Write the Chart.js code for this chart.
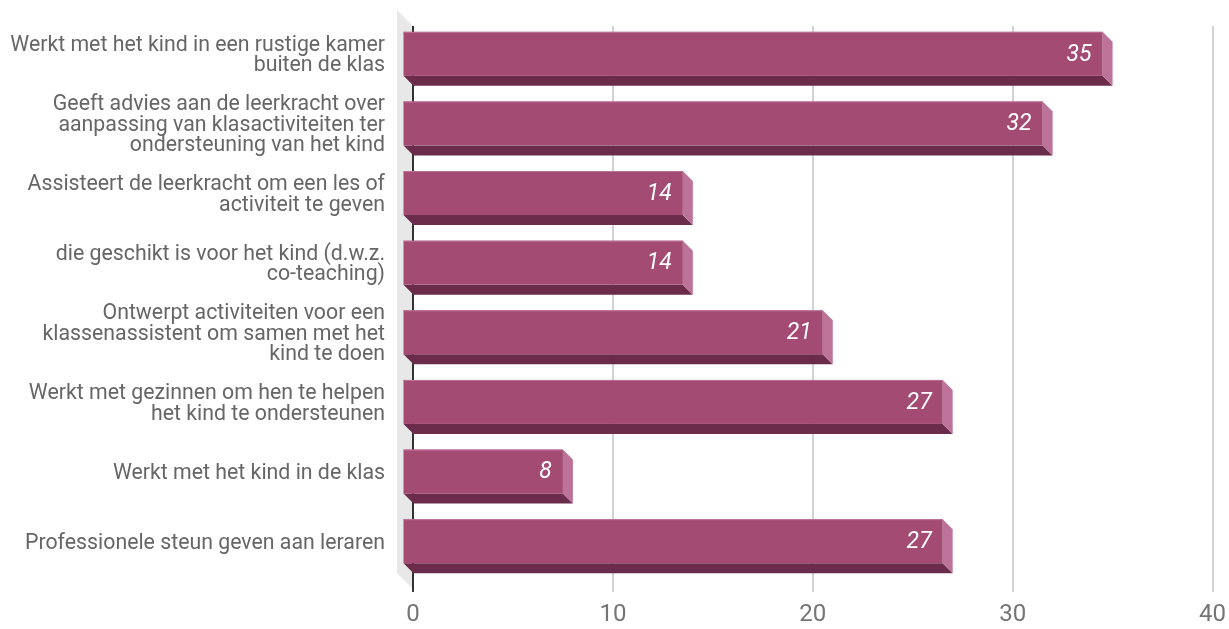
<!DOCTYPE html>
<html>
<head>
<meta charset="utf-8">
<script src="https://cdn.jsdelivr.net/npm/chart.js@4.4.0/dist/chart.umd.min.js"></script>
<style>
  html, body { margin: 0; padding: 0; background: #fff; }
  #wrap { width: 1229px; height: 629px; }
</style>
</head>
<body>
<div id="wrap"><canvas id="barChart"></canvas></div>
<script>
// categories (multi-line), values and axis ticks

const categories = [
    ['Werkt met het kind in een rustige kamer', 'buiten de klas'],
    ['Geeft advies aan de leerkracht over', 'aanpassing van klasactiviteiten ter', 'ondersteuning van het kind'],
    ['Assisteert de leerkracht om een les of', 'activiteit te geven'],
    ['die geschikt is voor het kind (d.w.z.', 'co-teaching)'],
    ['Ontwerpt activiteiten voor een', 'klassenassistent om samen met het', 'kind te doen'],
    ['Werkt met gezinnen om hen te helpen', 'het kind te ondersteunen'],
    ['Werkt met het kind in de klas'],
    ['Professionele steun geven aan leraren'],
];

const values = [35, 32, 14, 14, 21, 27, 8, 27];

const xTicks = [0, 10, 20, 30, 40];

// bar colours: front, bottom and right side
const frontColor = '#a34b73';
const bottomColor = '#6b2c4c';
const sideColor = '#bd7399';

const depth = 10;      // bar extrusion
const wallDepth = 16;  // grey wall on the left

const bars3d = {
    id: 'bars3d',
    beforeDatasetsDraw(chart) {
        const { ctx, chartArea: a, scales: { x } } = chart;
        const top = a.top - 3;
        const bottom = a.bottom + 6;
        const x0 = x.getPixelForValue(0);

        ctx.save();
        // wall
        ctx.fillStyle = '#e8e8e8';
        ctx.beginPath();
        ctx.moveTo(x0 - wallDepth, top - wallDepth);
        ctx.lineTo(x0, top);
        ctx.lineTo(x0, bottom - 3);
        ctx.lineTo(x0 - wallDepth, bottom - 3 - wallDepth);
        ctx.closePath();
        ctx.fill();

        // grid lines
        ctx.strokeStyle = '#d2d2d2';
        ctx.lineWidth = 2;
        xTicks.slice(1).forEach(v => {
            const px = Math.round(x.getPixelForValue(v));
            ctx.beginPath();
            ctx.moveTo(px, top);
            ctx.lineTo(px, bottom);
            ctx.stroke();
        });

        // zero line
        ctx.strokeStyle = '#333';
        ctx.beginPath();
        ctx.moveTo(Math.round(x0), top);
        ctx.lineTo(Math.round(x0), bottom);
        ctx.stroke();
        ctx.restore();
    },
    afterDatasetsDraw(chart) {
        const { ctx } = chart;
        const meta = chart.getDatasetMeta(0);
        ctx.save();
        meta.data.forEach((bar, i) => {
            const bx0 = bar.base, bx1 = bar.x;
            const by0 = bar.y - bar.height / 2, by1 = bar.y + bar.height / 2;
            const fx0 = bx0 - depth, fx1 = bx1 - depth;
            const fy0 = by0 - depth, fy1 = by1 - depth;

            // bottom face
            ctx.fillStyle = bottomColor;
            ctx.beginPath();
            ctx.moveTo(fx0, fy1);
            ctx.lineTo(fx1, fy1);
            ctx.lineTo(bx1, by1);
            ctx.lineTo(bx0, by1);
            ctx.closePath();
            ctx.fill();

            // right face
            ctx.fillStyle = sideColor;
            ctx.beginPath();
            ctx.moveTo(fx1, fy0);
            ctx.lineTo(bx1, by0);
            ctx.lineTo(bx1, by1);
            ctx.lineTo(fx1, fy1);
            ctx.closePath();
            ctx.fill();

            // front face
            ctx.fillStyle = frontColor;
            ctx.fillRect(fx0, fy0, fx1 - fx0, fy1 - fy0);
            ctx.fillStyle = sideColor;
            ctx.fillRect(fx0, fy0, fx1 - fx0, 1);

            // value label
            ctx.fillStyle = '#fff';
            ctx.font = 'italic 23px Roboto';
            ctx.textAlign = 'right';
            ctx.textBaseline = 'middle';
            ctx.fillText(String(values[i]), fx1 - 11, (fy0 + fy1) / 2 + 1);
        });
        ctx.restore();
    },
    afterDraw(chart) {
        const { ctx, scales: { y } } = chart;
        const lineH = 20.5;
        ctx.save();
        ctx.fillStyle = '#666';
        ctx.font = '21.3px Roboto';
        ctx.textAlign = 'right';
        ctx.textBaseline = 'middle';
        categories.forEach((lines, i) => {
            const cy = y.getPixelForTick(i) - depth + 2;
            const startY = cy - (lines.length - 1) * lineH / 2;
            lines.forEach((line, j) => {
                ctx.fillText(line, 385, startY + j * lineH);
            });
        });
        ctx.restore();
    }
};

const barChart = document.querySelector('#barChart');

new Chart(barChart, {
    type: 'bar',
    data: {
        labels: categories,
        datasets: [
            {
                label: 'Aantal',
                data: values,
                backgroundColor: 'rgba(0, 0, 0, 0)',
                borderWidth: 0,
                barThickness: 44,
            }
        ]
    },
    options: {
        indexAxis: 'y',
        responsive: true,
        maintainAspectRatio: false,
        animation: false,
        layout: {
            padding: { top: 29, right: 5, bottom: 0, left: 0 }
        },
        plugins: {
            legend: { display: false },
            tooltip: { enabled: false },
        },
        scales: {
            x: {
                min: 0,
                max: 40,
                // grid is drawn by the plugin; keep only the tick spacing
                grid: {
                    color: 'rgba(0, 0, 0, 0)',
                    drawOnChartArea: false,
                    drawTicks: true,
                    tickLength: 12,
                },
                border: { display: false },
                afterFit(scale) { scale.height = 43; },
                ticks: {
                    stepSize: 10,
                    padding: 3,
                    color: '#757575',
                    font: { family: 'Roboto', size: 24 },
                },
            },
            y: {
                grid: { display: false },
                border: { display: false },
                ticks: { display: false },
                afterFit(scale) { scale.width = 413; },
            }
        }
    },
    plugins: [bars3d]
});
</script>
</body>
</html>
